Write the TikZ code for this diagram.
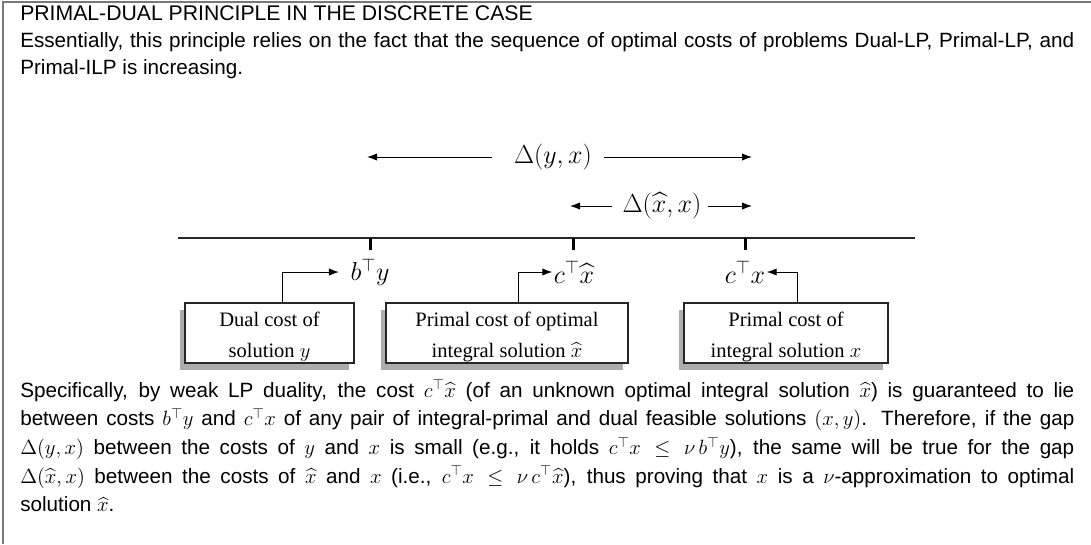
\RequirePackage{fix-cm}
\documentclass[tikz,border=0pt]{standalone}
\usepackage{amsmath}
\usepackage[no-math]{fontspec}
\setmainfont{Liberation Sans}
\newfontfamily\boxfont{Liberation Serif}
\usetikzlibrary{arrows.meta,positioning,calc,shadows}
\definecolor{framegray}{RGB}{120,120,120}
\definecolor{shadowgray}{RGB}{172,172,172}
\definecolor{axisgray}{RGB}{40,40,40}
\newcommand{\boxstrut}{\rule{0pt}{16.5pt}}

\begin{document}
\begin{tikzpicture}[
      x=0.75pt, y=-0.75pt,
      >={Latex[length=7.5pt,width=5.5pt]},
      head/.style={anchor=base west, inner sep=0pt, font=\fontsize{15.9}{20.25}\selectfont},
      body/.style={anchor=base west, inner sep=0pt, text width=790.5pt, align=justify,
                   font=\fontsize{15.5}{20.25}\selectfont},
      lbl/.style={inner sep=1pt, font=\fontsize{19.5}{22}\selectfont},
      cost/.style={draw=black!85, fill=white, line width=0.9pt, align=center, inner sep=0pt,
                   minimum height=45pt, font=\boxfont\fontsize{15.4}{23}\selectfont,
                   drop shadow={shadow xshift=-3.75pt, shadow yshift=-5.25pt,
                                fill=shadowgray, opacity=1}},
      feed/.style={->, line width=0.75pt},
      gap/.style={->, line width=0.75pt},
    ]
    \useasboundingbox (0,0) rectangle (1091,544);
    \draw[framegray, line width=1.1pt] (3,544) -- (3,2) -- (1091,2);

    \node[head] (title) at (20,20) {PRIMAL-DUAL PRINCIPLE IN THE DISCRETE CASE};
    \node[body] (intro) at (20,47)
      {Essentially, this principle relies on the fact that the sequence of optimal costs of
       problems Dual-LP, Primal-LP, and\linebreak Primal-ILP is increasing.};

    % the cost axis and its three marks
    \coordinate (axL) at (178,238);
    \coordinate (axR) at (915,238);
    \draw[axisgray, line width=1.5pt] (axL) -- (axR);
    \foreach \n/\x in {tb/370, tx/573, tc/745} {
      \coordinate (\n) at (\x,238);
      \draw[line width=2.25pt] (\n) -- ++(0,12);
    }
    \node[lbl] (bty) at (370,272) {$b^\top y$};
    \node[lbl] (cxh) at (574,272) {$c^\top\widehat{x}$};
    \node[lbl] (cx)  at (745,272) {$c^\top x$};

    % the two gaps
    \node[lbl] (dyx) at (553,157) {$\Delta(y,x)$};
    \coordinate (dyxL) at (367,157);
    \coordinate (dyxR) at (752,157);
    \draw[gap, shorten <=15.5pt] (dyx.west) -- (dyxL);
    \draw[gap, shorten <=8pt] (dyx.east) -- (dyxR);
    \node[lbl] (dxx) at (662,206) {$\Delta(\widehat{x},x)$};
    \coordinate (dxxL) at (570,206);
    \coordinate (dxxR) at (752,206);
    \draw[gap, shorten <=6.5pt] (dxx.west) -- (dxxL);
    \draw[gap, shorten <=3.5pt] (dxx.east) -- (dxxR);

    \node[cost, minimum width=126.75pt] (dual) at (269.5,333)
      {\boxstrut Dual cost of\\solution $y$};
    \node[cost, minimum width=181.5pt] (opt) at (507,333)
      {\boxstrut Primal cost of optimal\\integral solution $\widehat{x}$};
    \node[cost, minimum width=153pt] (intg) at (786,333)
      {\boxstrut Primal cost of\\integral solution $x$};

    \draw[feed, shorten >=7.5pt] ($(dual.north)+(12.5,0)$) |- (bty.west);
    \draw[feed] ($(opt.north)+(11,0)$) |- (cxh.west);
    \draw[feed] ($(intg.north)+(11,0)$) |- (cx.east);

    \node[body, font=\fontsize{15.5}{21.56}\selectfont] (concl) at (20,397)
      {Specifically, by weak LP duality, the cost $c^\top\widehat{x}$ (of an unknown optimal
       integral solution $\widehat{x}$) is guaranteed to lie\linebreak between costs $b^\top y$
       and $c^\top x$ of any pair of integral-primal and dual feasible solutions $(x,y)$.
       Therefore, if the gap\linebreak $\Delta(y,x)$ between the costs of $y$ and $x$ is small
       (e.g., it holds $c^\top x \le \nu\, b^\top y$), the same will be true for the
       gap\linebreak $\Delta(\widehat{x},x)$ between the costs of $\widehat{x}$ and $x$ (i.e.,
       $c^\top x \le \nu\, c^\top\widehat{x}$), thus proving that $x$ is a
       $\nu$-approximation to optimal\linebreak solution $\widehat{x}$.};
  \end{tikzpicture}
\end{document}
